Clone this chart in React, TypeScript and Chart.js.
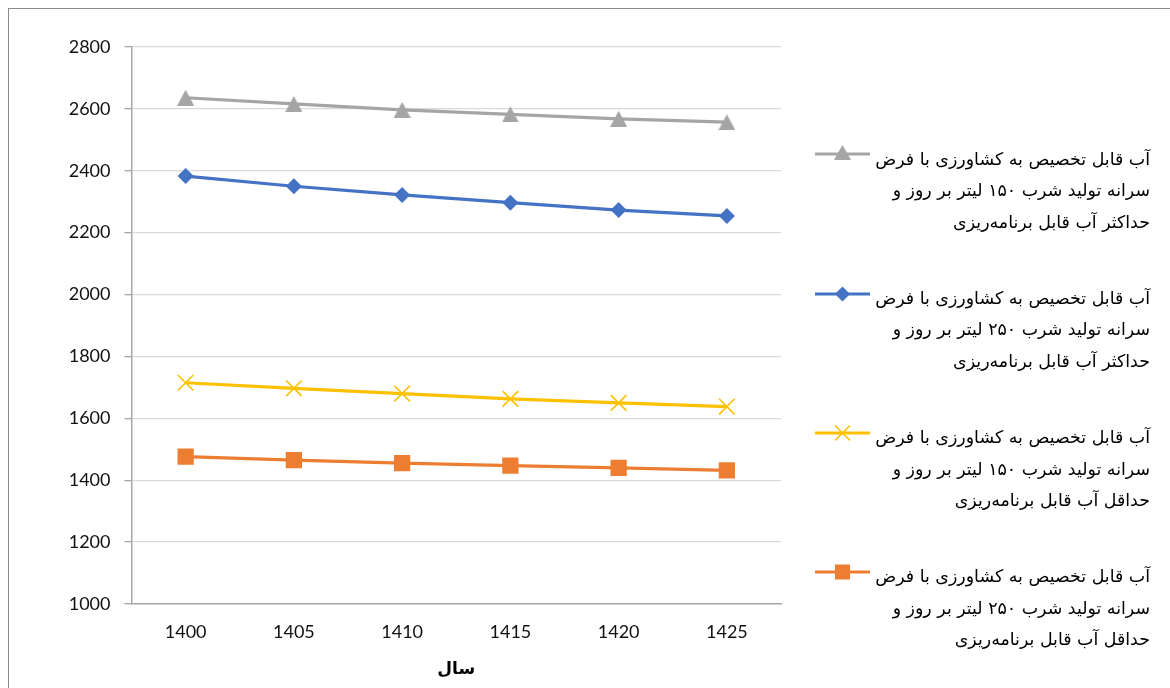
import React, { useEffect, useRef } from 'react';
import { Chart, registerables } from 'chart.js';

Chart.register(...registerables);

// ---- data ----
const years: string[] = ['1400', '1405', '1410', '1415', '1420', '1425'];
const maxPlan150: number[] = [2636, 2616, 2597, 2582, 2568, 2557];
const maxPlan250: number[] = [2383, 2350, 2322, 2297, 2273, 2254];
const minPlan150: number[] = [1715, 1697, 1680, 1663, 1650, 1638];
const minPlan250: number[] = [1476, 1465, 1455, 1447, 1440, 1432];
const yMin = 1000;
const yMax = 2800;
const yStep = 200;
const xTitle = 'سال';

const legendMax150: string[] = [
  'آب قابل تخصیص به کشاورزی با فرض',
  'سرانه تولید شرب ۱۵۰ لیتر بر روز و',
  'حداکثر آب قابل برنامه‌ریزی',
];
const legendMax250: string[] = [
  'آب قابل تخصیص به کشاورزی با فرض',
  'سرانه تولید شرب ۲۵۰ لیتر بر روز و',
  'حداکثر آب قابل برنامه‌ریزی',
];
const legendMin150: string[] = [
  'آب قابل تخصیص به کشاورزی با فرض',
  'سرانه تولید شرب ۱۵۰ لیتر بر روز و',
  'حداقل آب قابل برنامه‌ریزی',
];
const legendMin250: string[] = [
  'آب قابل تخصیص به کشاورزی با فرض',
  'سرانه تولید شرب ۲۵۰ لیتر بر روز و',
  'حداقل آب قابل برنامه‌ریزی',
];

const GRAY = '#A5A5A5';
const BLUE = '#4472C4';
const YELLOW = '#FFC000';
const ORANGE = '#ED7D31';

type Marker = 'triangle' | 'diamond' | 'x' | 'square';

const series = [
  { lines: legendMax150, values: maxPlan150, color: GRAY, marker: 'triangle' as Marker },
  { lines: legendMax250, values: maxPlan250, color: BLUE, marker: 'diamond' as Marker },
  { lines: legendMin150, values: minPlan150, color: YELLOW, marker: 'x' as Marker },
  { lines: legendMin250, values: minPlan250, color: ORANGE, marker: 'square' as Marker },
];

function makeTriangle(color: string): HTMLCanvasElement {
  const c = document.createElement('canvas');
  c.width = 17;
  c.height = 16;
  const g = c.getContext('2d')!;
  g.fillStyle = color;
  g.beginPath();
  g.moveTo(8.5, 0);
  g.lineTo(17, 16);
  g.lineTo(0, 16);
  g.closePath();
  g.fill();
  return c;
}

function LegendMarker({ color, marker }: { color: string; marker: Marker }) {
  let shape: React.ReactNode = null;
  const cx = 27.5;
  const cy = 9;
  if (marker === 'triangle') {
    shape = <polygon points={`${cx - 8.5},${cy + 6} ${cx + 8.5},${cy + 6} ${cx},${cy - 9}`} fill={color} />;
  } else if (marker === 'diamond') {
    shape = <polygon points={`${cx - 7.5},${cy} ${cx},${cy - 7.5} ${cx + 7.5},${cy} ${cx},${cy + 7.5}`} fill={color} />;
  } else if (marker === 'x') {
    shape = (
      <g stroke={color} strokeWidth={1.6}>
        <line x1={cx - 7.5} y1={cy - 7.5} x2={cx + 7.5} y2={cy + 7.5} />
        <line x1={cx - 7.5} y1={cy + 7.5} x2={cx + 7.5} y2={cy - 7.5} />
      </g>
    );
  } else {
    shape = <rect x={cx - 7.5} y={cy - 7.5} width={15} height={15} fill={color} />;
  }
  return (
    <svg width={55} height={18} style={{ position: 'absolute', left: 0, top: 0, overflow: 'visible' }}>
      <line x1={0} y1={cy} x2={55} y2={cy} stroke={color} strokeWidth={3.2} />
      {shape}
    </svg>
  );
}

export default function App() {
  const canvasRef = useRef<HTMLCanvasElement | null>(null);

  useEffect(() => {
    if (!canvasRef.current) return;
    const tri = makeTriangle(GRAY);
    const styleFor = (m: Marker): any =>
      m === 'triangle' ? tri : m === 'diamond' ? 'rectRot' : m === 'x' ? 'crossRot' : 'rect';
    const radiusFor = (m: Marker) => (m === 'triangle' ? 8 : m === 'diamond' ? 8 : m === 'x' ? 11 : 11.5);

    const chart = new Chart(canvasRef.current, {
      type: 'line',
      data: {
        labels: years,
        datasets: series.map((s) => ({
          label: s.lines.join(' '),
          data: s.values,
          borderColor: s.color,
          backgroundColor: s.color,
          borderWidth: 3.2,
          pointStyle: styleFor(s.marker),
          pointRadius: radiusFor(s.marker),
          pointBackgroundColor: s.color,
          pointBorderColor: s.color,
          pointBorderWidth: s.marker === 'x' ? 1.6 : 0,
          tension: 0,
          fill: false,
        })),
      },
      options: {
        responsive: false,
        animation: false,
        layout: { padding: { left: 0, top: 38, right: 389, bottom: 0 } },
        plugins: {
          legend: { display: false },
          tooltip: { enabled: false },
        },
        scales: {
          x: {
            offset: true,
            grid: { display: false, drawTicks: false, tickLength: 0 },
            border: { display: true, color: '#a6a6a6', width: 1.5 },
            ticks: {
              color: '#111',
              padding: 17,
              font: { family: 'Lato', size: 18 },
            },
            title: {
              display: true,
              text: xTitle,
              color: '#000',
              font: { family: 'DejaVu Sans', size: 17, weight: 'bold' },
              padding: { top: 0, bottom: 8 },
            },
            afterFit: (scale: any) => {
              scale.height = 84;
            },
          },
          y: {
            min: yMin,
            max: yMax,
            ticks: {
              stepSize: yStep,
              color: '#111',
              padding: 14,
              font: { family: 'Lato', size: 18 },
              callback: (v: any) => String(v),
            },
            grid: {
              color: (ctx: any) => (ctx.tick && ctx.tick.value === yMin ? 'rgba(0,0,0,0)' : '#d9d9d9'),
              lineWidth: 1.3,
              drawTicks: true,
              tickLength: 7,
              tickColor: '#a6a6a6',
            },
            border: { display: true, color: '#a6a6a6', width: 1.5 },
            afterFit: (scale: any) => {
              scale.width = 122.5;
            },
          },
        },
      },
    });
    return () => chart.destroy();
  }, []);

  return (
    <div
      style={{
        position: 'fixed',
        left: 8,
        top: 8,
        width: 1162,
        height: 680,
        boxSizing: 'border-box',
        borderLeft: '1px solid #8a8a8a',
        borderTop: '1px solid #8a8a8a',
        background: '#fff',
        overflow: 'hidden',
      }}
    >
      <canvas ref={canvasRef} width={1161} height={679} style={{ display: 'block', width: 1161, height: 679 }} />
      {series.map((s, i) => {
        const markerY = 145.3 + i * 139.3;
        return (
          <React.Fragment key={i}>
            <div style={{ position: 'absolute', left: 806, top: markerY - 9, width: 55, height: 18 }}>
              <LegendMarker color={s.color} marker={s.marker} />
            </div>
            <div
              dir="rtl"
              style={{
                position: 'absolute',
                right: 20,
                top: markerY + 5 - 15.75,
                textAlign: 'right',
                whiteSpace: 'nowrap',
                fontFamily: '"DejaVu Sans", sans-serif',
                fontSize: 17.4,
                lineHeight: '31.5px',
                color: '#000',
              }}
            >
              {s.lines.map((l, j) => (
                <div key={j}>{l}</div>
              ))}
            </div>
          </React.Fragment>
        );
      })}
    </div>
  );
}
